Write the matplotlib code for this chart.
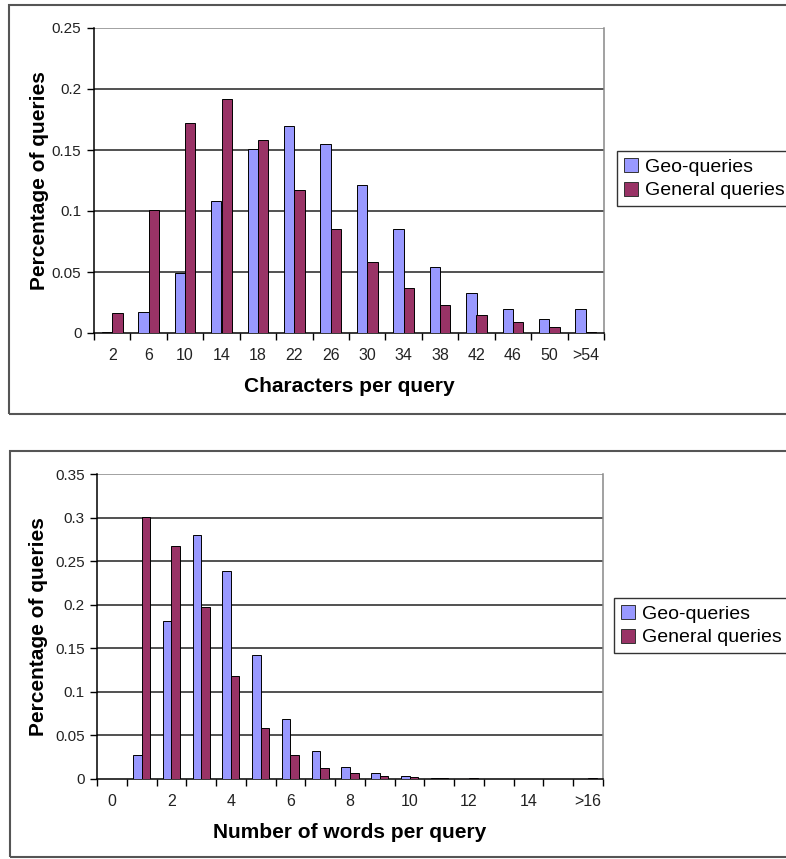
import numpy as np
import matplotlib
matplotlib.use("Agg")
import matplotlib.pyplot as plt
from matplotlib import font_manager
from matplotlib.patches import Rectangle

# data
char_labels = ["2", "6", "10", "14", "18", "22", "26", "30", "34", "38", "42", "46", "50", ">54"]
char_geo = [0.001, 0.0175, 0.049, 0.108, 0.151, 0.170, 0.155, 0.121, 0.085, 0.054, 0.033, 0.020, 0.0115, 0.020]
char_gen = [0.016, 0.101, 0.172, 0.192, 0.158, 0.117, 0.085, 0.058, 0.037, 0.023, 0.0145, 0.0088, 0.005, 0.001]

word_labels = ["0", "", "2", "", "4", "", "6", "", "8", "", "10", "", "12", "", "14", "", ">16"]
word_geo = [0.0, 0.027, 0.181, 0.280, 0.239, 0.142, 0.069, 0.032, 0.014, 0.007, 0.004, 0.001, 0.0005, 0.0, 0.0, 0.0, 0.0]
word_gen = [0.0, 0.301, 0.267, 0.197, 0.118, 0.059, 0.028, 0.013, 0.007, 0.004, 0.002, 0.001, 0.001, 0.0, 0.0, 0.0, 0.001]

char_yticks = [0, 0.05, 0.1, 0.15, 0.2, 0.25]
word_yticks = [0, 0.05, 0.1, 0.15, 0.2, 0.25, 0.3, 0.35]

GEO = "#9999FF"
GEN = "#993366"
W, H = 786, 859

# narrow font for ticks if there is one, else plain Liberation Sans a bit smaller
names = {f.name for f in font_manager.fontManager.ttflist}
if "Liberation Sans Narrow" in names:
    TICK_FONT, TICK_SIZE = "Liberation Sans Narrow", 12.5
else:
    TICK_FONT, TICK_SIZE = "Liberation Sans", 11

fig = plt.figure(figsize=(W / 100, H / 100), dpi=100)


def fx(px):
    return px / W


def fy(py):
    return 1 - py / H


def draw_panel(box, axbox, labels, geo, gen, yticks, xlabel, legend_xy, ylab_x):
    # panel border
    x0, y0, x1, y1 = box
    fig.patches.append(Rectangle((fx(x0), fy(y1)), fx(x1 - x0), (y1 - y0) / H,
                                 transform=fig.transFigure, fill=False,
                                 edgecolor="#555555", lw=1.5))
    l, t, r, b = axbox
    ax = fig.add_axes([fx(l), fy(b), fx(r - l), (b - t) / H])
    n = len(labels)
    x = np.arange(n)
    bw = 1 / 3.5
    ax.bar(x - bw / 2, geo, bw, color=GEO, edgecolor="black", lw=0.7, label="Geo-queries", zorder=3)
    ax.bar(x + bw / 2, gen, bw, color=GEN, edgecolor="black", lw=0.7, label="General queries", zorder=3)
    ax.set_xlim(-0.5, n - 0.5)
    ax.set_ylim(0, yticks[-1])
    ax.set_yticks(yticks)
    ax.set_yticklabels([("%g" % v) for v in yticks], family=TICK_FONT,
                       fontsize=TICK_SIZE, color="#222222")
    for v in yticks[1:]:
        ax.axhline(v, color="#222222" if v < yticks[-1] else "#888888", lw=1.1, zorder=1)
    ax.set_xticks(np.arange(n + 1) - 0.5)
    ax.set_xticklabels([])
    ax.set_xticks(x, labels, minor=True)
    ax.tick_params(axis="x", which="major", direction="out", length=5, width=1)
    ax.tick_params(axis="x", which="minor", length=0, pad=11, labelsize=TICK_SIZE + 0.5)
    for lab in ax.get_xticklabels(minor=True):
        lab.set_family(TICK_FONT)
        lab.set_color("#222222")
    ax.tick_params(axis="y", direction="out", length=5, width=1, pad=4)
    ax.spines["top"].set_visible(False)
    ax.spines["right"].set_color("#888888")
    ax.spines["right"].set_linewidth(1.1)
    ax.spines["left"].set_linewidth(1.1)
    ax.spines["bottom"].set_linewidth(1.1)
    ax.set_xlabel(xlabel, family="Liberation Sans", fontweight="bold", fontsize=15, labelpad=10)
    ax.set_ylabel("Percentage of queries", family="Liberation Sans", fontweight="bold",
                  fontsize=15, va="center")
    ax.yaxis.set_label_coords((ylab_x - l) / (r - l), 0.5)
    leg = ax.legend(loc="upper left", bbox_to_anchor=(fx(legend_xy[0]), fy(legend_xy[1])),
                    bbox_transform=fig.transFigure, frameon=True, fancybox=False,
                    handlelength=0.75, handleheight=0.75, handletextpad=0.35,
                    borderpad=0.35, labelspacing=0.3, borderaxespad=0,
                    prop={"family": "Liberation Sans", "size": 14})
    leg.get_frame().set_edgecolor("black")
    leg.get_frame().set_linewidth(1.0)
    for h in leg.legend_handles:
        h.set_edgecolor("#333333")
    return ax


draw_panel((9, 5, 795, 414), (94, 28, 604, 333), char_labels, char_geo, char_gen,
           char_yticks, "Characters per query", (617, 151), 40)
draw_panel((10, 451, 795, 857), (97, 474, 603, 779), word_labels, word_geo, word_gen,
           word_yticks, "Number of words per query", (614, 598), 39)

fig.savefig("out.png", dpi=100)
